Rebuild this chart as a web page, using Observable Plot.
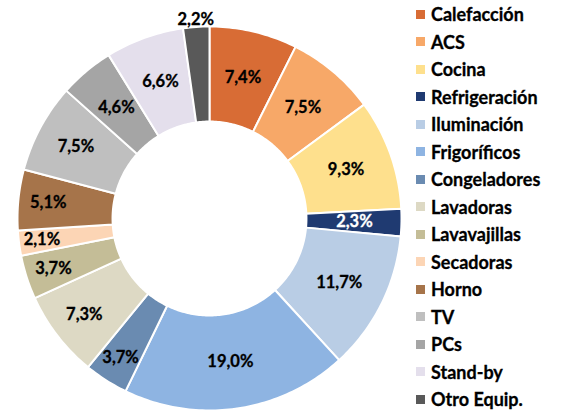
<!DOCTYPE html>
<html>
<head>
<meta charset="utf-8">
<script src="https://cdn.jsdelivr.net/npm/d3@7"></script>
<script src="https://cdn.jsdelivr.net/npm/@observablehq/plot@0.6"></script>
<style>
  html, body { margin: 0; padding: 0; background: #fff; }
  #wrap { position: relative; width: 565px; height: 412px; overflow: hidden; font-family: Lato, "Open Sans", sans-serif; }
  #wrap svg { position: absolute; left: 0; top: 0; }
  #legend { position: absolute; left: 416px; top: 0; }
  .row { position: absolute; left: 0; height: 22px; display: flex; align-items: center; white-space: nowrap; }
  .sw { width: 9px; height: 9px; margin-right: 6px; }
  .lb { font-size: 18px; font-weight: 700; color: #000; -webkit-text-stroke: 0.3px #000; }
</style>
</head>
<body>
<div id="wrap"><div id="legend"></div></div>
<script>
const categories = ["Calefacción", "ACS", "Cocina", "Refrigeración", "Iluminación", "Frigoríficos", "Congeladores", "Lavadoras", "Lavavajillas", "Secadoras", "Horno", "TV", "PCs", "Stand-by", "Otro Equip."];
const values = [7.4, 7.5, 9.3, 2.3, 11.7, 19.0, 3.7, 7.3, 3.7, 2.1, 5.1, 7.5, 4.6, 6.6, 2.2];
const colors = ["#D86C35", "#F7A868", "#FEE08D", "#1F3A71", "#B9CDE5", "#8EB4E2", "#6A8BB1", "#DDD9C4", "#C4BD97", "#FCD5B5", "#A6744A", "#BFBFBF", "#A5A5A5", "#E4DFEC", "#595959"];

// layout (not data)
const innerR = 0.505, outerR = 1, labelR = 0.755;
const labelROverride = {"Congeladores": 0.86, "Lavadoras": 0.823, "Lavavajillas": 0.854, "Secadoras": 0.88, "Horno": 0.844, "TV": 0.79, "Otro Equip.": 1.04};
const whiteLabels = new Set(["Refrigeración"]);

const total = d3.sum(values);
const pie = d3.pie().sort(null).value(d => d.value)(categories.map((c, i) => ({category: c, value: values[i]})));

const polys = [];
const labels = [];
for (const s of pie) {
  const a0 = s.startAngle, a1 = s.endAngle;
  const n = Math.max(4, Math.ceil((a1 - a0) / (Math.PI / 180)));
  const pts = [];
  for (let k = 0; k <= n; k++) { const a = a0 + (a1 - a0) * k / n; pts.push([outerR * Math.sin(a), outerR * Math.cos(a)]); }
  for (let k = n; k >= 0; k--) { const a = a0 + (a1 - a0) * k / n; pts.push([innerR * Math.sin(a), innerR * Math.cos(a)]); }
  pts.push(pts[0]);
  for (const [x, y] of pts) polys.push({category: s.data.category, x, y});
  const am = (a0 + a1) / 2;
  const r = labelROverride[s.data.category] ?? labelR;
  labels.push({category: s.data.category, x: r * Math.sin(am), y: r * Math.cos(am),
    text: (s.data.value / total * 100).toFixed(1).replace(".", ",") + "%"});
}

const plot = Plot.plot({
  width: 565,
  height: 412,
  margin: 0,
  x: {domain: [-1, 1], range: [17, 401], axis: null},
  y: {domain: [-1, 1], range: [410, 26], axis: null},
  color: {domain: categories, range: colors},
  style: {fontFamily: "Lato, 'Open Sans', sans-serif", background: "white"},
  marks: [
    Plot.line(polys, {x: "x", y: "y", z: "category", fill: "category", stroke: "white", strokeWidth: 2, curve: "linear"}),
    Plot.text(labels, {x: "x", y: "y", text: "text", fontSize: 16.5, fontWeight: 700,
      fill: d => whiteLabels.has(d.category) ? "white" : "black",
      stroke: d => whiteLabels.has(d.category) ? "white" : "black", strokeWidth: 0.3})
  ]
});
document.getElementById("wrap").prepend(plot);

const legend = d3.select("#legend");
categories.forEach((c, i) => {
  const row = legend.append("div").attr("class", "row").style("top", (14 + i * 27.5 - 11) + "px");
  row.append("div").attr("class", "sw").style("background", colors[i]);
  row.append("span").attr("class", "lb").text(c);
});
</script>
</body>
</html>
